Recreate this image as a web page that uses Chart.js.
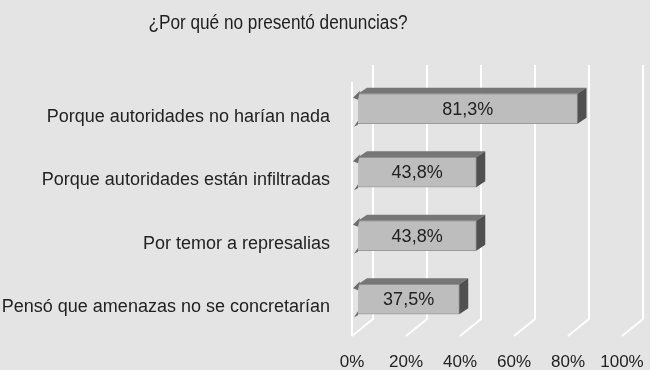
<!DOCTYPE html>
<html>
<head>
<meta charset="utf-8">
<script src="https://cdn.jsdelivr.net/npm/chart.js@4"></script>
<style>
  html, body { margin: 0; padding: 0; background: #e4e4e4; }
  canvas { display: block; }
</style>
</head>
<body>
<canvas id="denuncias-chart" width="650" height="370"></canvas>
<script>
const titulo = '¿Por qué no presentó denuncias?'
const categorias = [
    'Porque autoridades no harían nada',
    'Porque autoridades están infiltradas',
    'Por temor a represalias',
    'Pensó que amenazas no se concretarían'
]
const valores = [81.3, 43.8, 43.8, 37.5]
const etiquetas = ['81,3%', '43,8%', '43,8%', '37,5%']
const ticksX = [0, 20, 40, 60, 80, 100]

const FONT = '"Liberation Sans", Arial, sans-serif'
// offsets for the fake 3d look
const fondoDx = 21, fondoDy = 17
const barDx = 6, barDy = 5
const profDx = 9, profDy = 6

const efecto3d = {
    id: 'efecto3d',
    beforeDraw(chart) {
        const ctx = chart.ctx
        ctx.save()
        ctx.fillStyle = '#e4e4e4'
        ctx.fillRect(0, 0, chart.width, chart.height)
        ctx.restore()
    },
    beforeDatasetsDraw(chart) {
        const ctx = chart.ctx
        const area = chart.chartArea
        const sx = chart.scales.x
        ctx.save()
        ctx.strokeStyle = '#ffffff'
        ctx.lineWidth = 2
        ctx.beginPath()
        ticksX.forEach(v => {
            const x = sx.getPixelForValue(v)
            ctx.moveTo(x + fondoDx, area.top - fondoDy)
            ctx.lineTo(x + fondoDx, area.bottom - fondoDy)
            ctx.lineTo(x, area.bottom)
        })
        ctx.moveTo(area.left, area.top)
        ctx.lineTo(area.left, area.bottom)
        ctx.stroke()
        ctx.restore()
        // bars sit a little behind the front plane
        ctx.save()
        ctx.translate(barDx, -barDy)
    },
    afterDatasetsDraw(chart) {
        const ctx = chart.ctx
        const meta = chart.getDatasetMeta(0)
        meta.data.forEach((bar, i) => {
            const top = bar.y - bar.height / 2
            const bottom = bar.y + bar.height / 2
            const x0 = bar.base, x1 = bar.x
            // top face
            ctx.fillStyle = '#767676'
            ctx.beginPath()
            ctx.moveTo(x0, top)
            ctx.lineTo(x1, top)
            ctx.lineTo(x1 + profDx, top - profDy)
            ctx.lineTo(x0 + profDx, top - profDy)
            ctx.closePath()
            ctx.fill()
            // right face
            ctx.fillStyle = '#505050'
            ctx.beginPath()
            ctx.moveTo(x1, top)
            ctx.lineTo(x1 + profDx, top - profDy)
            ctx.lineTo(x1 + profDx, bottom - profDy)
            ctx.lineTo(x1, bottom)
            ctx.closePath()
            ctx.fill()
            // little wedges on the left
            ctx.fillStyle = '#6c6c6c'
            ctx.beginPath()
            ctx.moveTo(x0 + 2, top - 3)
            ctx.lineTo(x0 - 5, top + 4)
            ctx.lineTo(x0, top + 6)
            ctx.closePath()
            ctx.fill()
            ctx.beginPath()
            ctx.moveTo(x0, bottom - 3)
            ctx.lineTo(x0 - 4, bottom + 3)
            ctx.lineTo(x0, bottom + 1)
            ctx.closePath()
            ctx.fill()
            // value label
            ctx.fillStyle = '#222222'
            ctx.font = '18px ' + FONT
            ctx.textAlign = 'center'
            ctx.textBaseline = 'middle'
            ctx.fillText(etiquetas[i], (x0 + x1) / 2, bar.y + 1)
        })
        ctx.restore()
    },
    afterDraw(chart) {
        // title is a bit narrow in the original, squeeze it a little
        const ctx = chart.ctx
        ctx.save()
        ctx.fillStyle = '#1e1e1e'
        ctx.font = '20px ' + FONT
        ctx.textAlign = 'center'
        ctx.textBaseline = 'middle'
        ctx.translate(278, 23)
        ctx.scale(0.86, 1)
        ctx.fillText(titulo, 0, 0)
        ctx.restore()
    }
}

let ctx = document.getElementById('denuncias-chart')
const denunciasChart = new Chart(ctx, {
    type: 'bar',
    plugins: [efecto3d],
    data: {
        labels: categorias,
        datasets: [{
            data: valores,
            backgroundColor: '#bdbdbd',
            borderColor: '#9a9a9a',
            borderWidth: 1,
            barThickness: 30
        }]
    },
    options: {
        indexAxis: 'y',
        responsive: false,
        animation: false,
        events: [],
        layout: {
            padding: { top: 82, right: 28, left: 0, bottom: 0 }
        },
        plugins: {
            legend: { display: false },
            tooltip: { enabled: false },
            title: { display: false }
        },
        scales: {
            x: {
                min: 0,
                max: 100,
                grid: { display: false, drawTicks: false },
                border: { display: false },
                ticks: {
                    stepSize: 20,
                    padding: 16,
                    color: '#222222',
                    font: { family: FONT, size: 17 },
                    callback: v => v + '%'
                },
                afterFit(scale) {
                    scale.height = 34
                    scale.paddingLeft = 0
                    scale.paddingRight = 0
                }
            },
            y: {
                grid: { display: false, drawTicks: false },
                border: { display: false },
                ticks: {
                    padding: 22,
                    labelOffset: 3,
                    color: '#222222',
                    font: { family: FONT, size: 18 }
                },
                afterFit(scale) { scale.width = 352 }
            }
        }
    }
})
</script>
</body>
</html>
